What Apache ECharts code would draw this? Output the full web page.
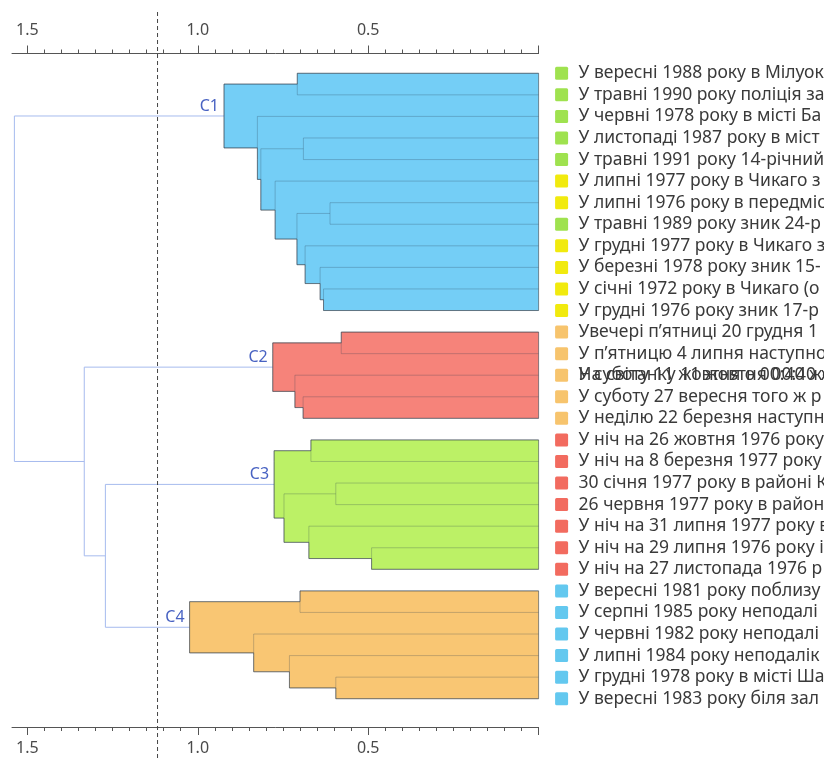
<!DOCTYPE html>
<html>
<head>
<meta charset="utf-8">
<script src="https://cdn.jsdelivr.net/npm/echarts@6/dist/echarts.min.js"></script>
<style>html,body{margin:0;padding:0;background:#fff}#c{width:824px;height:758px}</style>
</head>
<body>
<div id="c"></div>
<script>
// ---- data ----
const leafLabels = [
  "У вересні 1988 року в Мілуокі",
  "У травні 1990 року поліція за",
  "У червні 1978 року в місті Ба",
  "У листопаді 1987 року в міст",
  "У травні 1991 року 14-річний",
  "У липні 1977 року в Чикаго з",
  "У липні 1976 року в передміс",
  "У травні 1989 року зник 24-р",
  "У грудні 1977 року в Чикаго з",
  "У березні 1978 року зник 15-",
  "У січні 1972 року в Чикаго (о",
  "У грудні 1976 року зник 17-р",
  "Увечері п’ятниці 20 грудня 1",
  "У п’ятницю 4 липня наступно",
  "У суботу 11 жовтня о 00:40 жорс",
  "У суботу 27 вересня того ж р",
  "У неділю 22 березня наступн",
  "У ніч на 26 жовтня 1976 року",
  "У ніч на 8 березня 1977 року",
  "30 січня 1977 року в районі К",
  "26 червня 1977 року в районі",
  "У ніч на 31 липня 1977 року в",
  "У ніч на 29 липня 1976 року і",
  "У ніч на 27 листопада 1976 р",
  "У вересні 1981 року поблизу",
  "У серпні 1985 року неподалі",
  "У червні 1982 року неподалі",
  "У липні 1984 року неподалік",
  "У грудні 1978 року в місті Ша",
  "У вересні 1983 року біля зал"
];
// a second label drawn on top of leaf 15 (overlapping in the original)
const overlapLabelIndex = [14];
const overlapLabelText = ["На світанку 11 жовтня 00:40 жорс"];

const leafGroups = ['g','g','g','g','g','y','y','g','y','y','y','y',
                    'o','o','o','o','o',
                    'r','r','r','r','r','r','r',
                    'b','b','b','b','b','b'];
const groupColors = {g:'#9fe24f', y:'#f1ea0e', o:'#f7c46d', r:'#f26b5f', b:'#63c8ef'};

// linkage: [childA, childB, height]; ids < 30 are leaves, id 30+k is merge k
const merges = [
  [0,1,0.708],[3,4,0.690],[6,7,0.612],[10,11,0.631],[9,33,0.641],[8,34,0.685],
  [32,35,0.709],[5,36,0.773],[31,37,0.815],[2,38,0.825],[30,39,0.923],
  [12,13,0.579],[15,16,0.691],[14,42,0.715],[41,43,0.780],
  [17,18,0.668],[19,20,0.595],[22,23,0.490],[21,47,0.674],[46,48,0.747],[45,49,0.776],
  [24,25,0.700],[28,29,0.595],[27,52,0.731],[26,53,0.836],[51,54,1.024],
  [50,55,1.271],[44,56,1.333],[40,57,1.538]
];
const clusterNames  = ['C1','C2','C3','C4'];
const clusterRoots  = [40,44,50,55];
const clusterColors = ['#74cef6','#f6837a','#bcf166','#f9c673'];
const cutHeight = 1.118;
const axisMax = 1.545;
const axisLabelValues = [0.5, 1.0, 1.5];
const majorTickValues = [0, 0.5, 1.0, 1.5];

// ---- helpers ----
const N = leafLabels.length;
const minorTickValues = [];
for (let k = 0; k <= 30; k++) minorTickValues.push(+(k * 0.05).toFixed(2));
function hOf(id){ return id < N ? 0 : merges[id - N][2]; }
const yCache = {};
function yOf(id){
  if (id < N) return id;
  if (yCache[id] !== undefined) return yCache[id];
  const m = merges[id - N];
  return (yCache[id] = (yOf(m[0]) + yOf(m[1])) / 2);
}
function subMerges(id, out){
  if (id < N) return out;
  out.push(id);
  const m = merges[id - N];
  subMerges(m[0], out); subMerges(m[1], out);
  return out;
}
const inCluster = new Set();
clusterRoots.forEach(r => subMerges(r, []).forEach(id => inCluster.add(id)));
const FONT = '"Noto Sans", "DejaVu Sans", sans-serif';
const LABEL_SIZE = 17.5;

function bracket(api, id){
  const m = merges[id - N];
  const pa = api.coord([hOf(m[0]), yOf(m[0])]);
  const pb = api.coord([hOf(m[1]), yOf(m[1])]);
  const xh = api.coord([m[2], 0])[0];
  return [pa, [xh, pa[1]], [xh, pb[1]], pb];
}

function renderCluster(params, api){
  const ci = params.dataIndex;
  const ids = subMerges(clusterRoots[ci], []);
  const x0 = api.coord([0, 0])[0];
  const rects = ids.map(id => {
    const m = merges[id - N];
    const ya = api.coord([0, yOf(m[0])])[1], yb = api.coord([0, yOf(m[1])])[1];
    return {xl: api.coord([m[2], 0])[0], y1: Math.min(ya, yb), y2: Math.max(ya, yb)};
  });
  const ys = Array.from(new Set(rects.flatMap(r => [r.y1, r.y2]))).sort((a, b) => a - b);
  const pts = [[x0, ys[0]]];
  for (let k = 0; k < ys.length - 1; k++){
    const mid = (ys[k] + ys[k + 1]) / 2;
    let L = x0;
    rects.forEach(r => { if (r.y1 <= mid && r.y2 >= mid && r.xl < L) L = r.xl; });
    pts.push([L, ys[k]], [L, ys[k + 1]]);
  }
  pts.push([x0, ys[ys.length - 1]]);
  const children = [{type:'polygon', shape:{points:pts}, style:{fill:clusterColors[ci], stroke:null}}];
  ids.forEach(id => children.push({type:'polyline', shape:{points:bracket(api, id)},
    style:{fill:null, stroke:'rgba(40,60,80,0.25)', lineWidth:1}}));
  children.push({type:'polygon', shape:{points:pts}, style:{fill:null, stroke:'rgba(60,70,80,0.6)', lineWidth:1}});
  const rp = api.coord([hOf(clusterRoots[ci]), yOf(clusterRoots[ci])]);
  children.push({type:'text', style:{text:clusterNames[ci], x:rp[0] - 5, y:rp[1] - 2,
    fill:'#4862c2', fontSize:16, fontFamily:FONT, align:'right', verticalAlign:'bottom'}});
  return {type:'group', children};
}

function renderLinks(params, api){
  const children = [];
  merges.forEach((m, k) => {
    const id = N + k;
    if (inCluster.has(id)) return;
    children.push({type:'polyline', shape:{points:bracket(api, id)},
      style:{fill:null, stroke:'#a6bbee', lineWidth:1}});
  });
  return {type:'group', children};
}

function renderLabels(params, api){
  const children = [];
  const x0 = api.coord([0, 0])[0];
  leafLabels.forEach((t, i) => {
    const y = api.coord([0, i])[1];
    children.push({type:'rect', shape:{x:x0 + 16.5, y:y - 6.5, width:13, height:13, r:1.5},
      style:{fill:groupColors[leafGroups[i]]}});
    children.push({type:'text', style:{text:t, x:x0 + 40, y:y, fill:'#3a3a3a', fontSize:LABEL_SIZE,
      fontFamily:FONT, align:'left', verticalAlign:'middle'}});
  });
  overlapLabelIndex.forEach((i, k) => {
    const y = api.coord([0, i])[1];
    children.push({type:'text', style:{text:overlapLabelText[k], x:x0 + 40, y:y, fill:'#3a3a3a', fontSize:LABEL_SIZE,
      fontFamily:FONT, align:'left', verticalAlign:'middle'}});
  });
  return {type:'group', children};
}

function renderCut(params, api){
  const x = api.coord([cutHeight, 0])[0];
  return {type:'line', shape:{x1:x, y1:12, x2:x, y2:758},
    style:{stroke:'#444', lineWidth:1, lineDash:[4,3]}};
}

function majorAxis(pos, offset, margin){
  return {type:'value', gridIndex:0, inverse:true, min:0, max:axisMax, position:pos, offset:offset,
    axisLine:{show:true, onZero:false, lineStyle:{color:'#555', width:1}},
    splitLine:{show:false},
    axisTick:{show:true, customValues:majorTickValues, length:8, lineStyle:{color:'#555'}},
    axisLabel:{show:true, customValues:axisLabelValues, formatter:v => (+v).toFixed(1),
      fontSize:16, color:'#4a4a4a', fontFamily:FONT, margin:margin}};
}
function minorAxis(pos, offset){
  return {type:'value', gridIndex:1, inverse:true, min:0, max:axisMax, position:pos, offset:offset,
    axisLine:{show:false, onZero:false}, splitLine:{show:false},
    axisTick:{show:true, customValues:minorTickValues, length:4, lineStyle:{color:'#555'}},
    axisLabel:{show:false}};
}

const gridBox = {left:12, right:285.4, top:62.5, bottom:48.5};
const option = {
  animation:false,
  backgroundColor:'#fff',
  grid:[Object.assign({}, gridBox), Object.assign({}, gridBox)],
  xAxis:[majorAxis('top', 9, 15), majorAxis('bottom', 17.5, 13), minorAxis('top', 9), minorAxis('bottom', 17.5)],
  yAxis:[
    {gridIndex:0, type:'value', min:-0.5, max:N - 0.5, inverse:true, show:false},
    {gridIndex:1, type:'value', min:-0.5, max:N - 0.5, inverse:true, show:false}
  ],
  series:[
    {type:'custom', silent:true, coordinateSystem:'cartesian2d', xAxisIndex:0, yAxisIndex:0, renderItem:renderLinks, data:[[0,0]], clip:false},
    {type:'custom', silent:true, coordinateSystem:'cartesian2d', xAxisIndex:0, yAxisIndex:0, renderItem:renderCluster,
     data:clusterNames.map((n, i) => [0, i]), clip:false},
    {type:'custom', silent:true, coordinateSystem:'cartesian2d', xAxisIndex:0, yAxisIndex:0, renderItem:renderCut, data:[[0,0]], clip:false, z:5},
    {type:'custom', silent:true, coordinateSystem:'cartesian2d', xAxisIndex:0, yAxisIndex:0, renderItem:renderLabels, data:[[0,0]], clip:false}
  ]
};
const chart = echarts.init(document.getElementById('c'));
chart.setOption(option);
</script>
</body>
</html>
